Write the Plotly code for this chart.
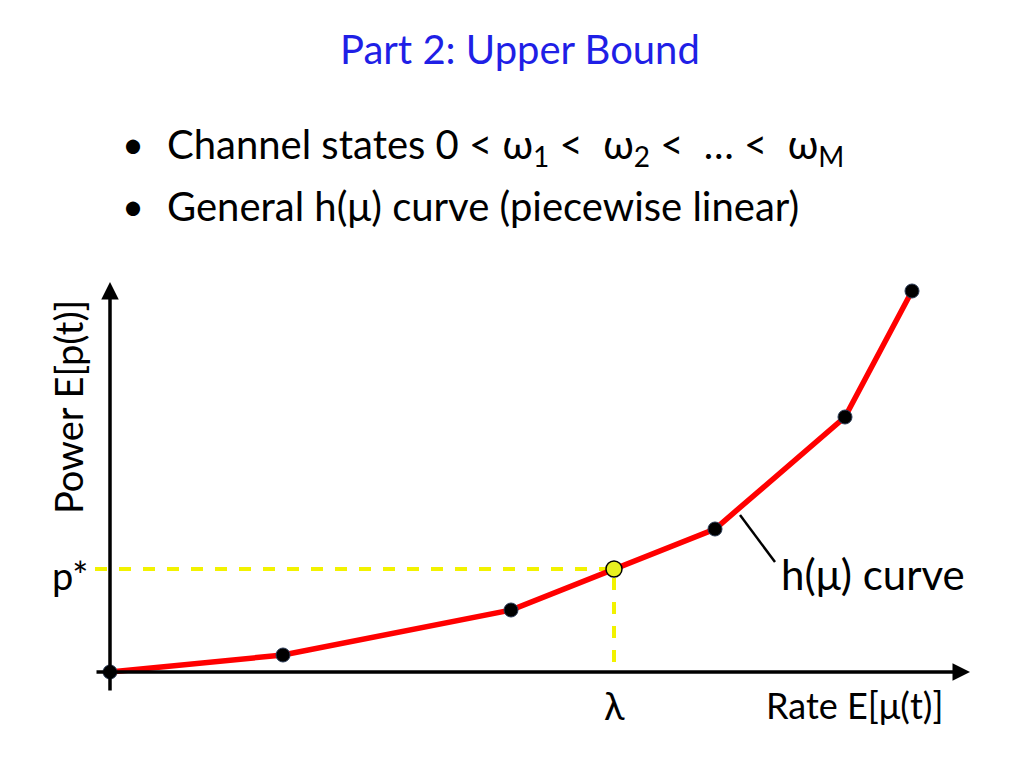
import plotly.graph_objects as go

# piecewise linear h(mu) curve, arbitrary units (rate, power)
rate = [0, 173, 401, 504, 605, 735, 802]
power = [0, 17, 62, 103, 143, 255, 381]
lam = 504
p_star = 103

FONT = "Lato"

fig = go.Figure()

# dashed yellow guide lines
fig.add_trace(go.Scatter(x=[-15, lam, lam], y=[p_star, p_star, 0], mode="lines",
                         line=dict(color="#f2f200", width=4, dash="dash"), hoverinfo="skip"))
# curve
fig.add_trace(go.Scatter(x=rate, y=power, mode="lines",
                         line=dict(color="#ff0000", width=5.5), hoverinfo="skip"))
# black dots (all but lambda point)
dot_x = [r for r in rate if r != lam]
dot_y = [p for r, p in zip(rate, power) if r != lam]
fig.add_trace(go.Scatter(x=dot_x, y=dot_y, mode="markers",
                         marker=dict(color="black", size=14, line=dict(color="#2a3a55", width=1))))
fig.add_trace(go.Scatter(x=[lam], y=[p_star], mode="markers",
                         marker=dict(color="#e8f020", size=16, line=dict(color="black", width=1.5))))

# axes with arrows
fig.add_annotation(x=860, y=0, ax=-15, ay=0, xref="x", yref="y", axref="x", ayref="y",
                   showarrow=True, arrowhead=2, arrowsize=1, arrowwidth=3.5, arrowcolor="black", text="")
fig.add_annotation(x=0, y=390, ax=0, ay=-20, xref="x", yref="y", axref="x", ayref="y",
                   showarrow=True, arrowhead=2, arrowsize=1, arrowwidth=3.5, arrowcolor="black", text="")

# leader line to curve label
fig.add_shape(type="line", x0=630, y0=157, x1=665, y1=110, line=dict(color="black", width=2.5))

labels = [
    dict(x=-40, y=p_star - 6, text="p*", size=38),
    dict(x=lam, y=-33, text="λ", size=38),
    dict(x=744, y=-33, text="Rate E[μ(t)]", size=36),
    dict(x=763, y=98, text="h(μ) curve", size=42),
]
for l in labels:
    fig.add_annotation(x=l["x"], y=l["y"], text=l["text"], showarrow=False, xref="x", yref="y",
                       font=dict(family=FONT, size=l["size"], color="black"))
fig.add_annotation(x=-42, y=265, text="Power E[p(t)]", textangle=-90, showarrow=False,
                   xref="x", yref="y", font=dict(family=FONT, size=38, color="black"))

# title and bullets
fig.add_annotation(x=0.5, y=1 - 15 / 768, xref="paper", yref="paper", showarrow=False,
                   text="Part 2: Upper Bound", font=dict(family=FONT, size=40, color="#1f1fe6"))
bullets = ["Channel states 0 &lt; ω<sub>1</sub> &lt;  ω<sub>2</sub> &lt;  … &lt;  ω<sub>M</sub>",
           "General h(μ) curve (piecewise linear)"]
for i, b in enumerate(bullets):
    yy = 1 - (110 + 62 * i) / 768
    fig.add_annotation(x=112 / 1024, y=yy, xref="paper", yref="paper", showarrow=False,
                       text="•", font=dict(family=FONT, size=38, color="black"))
    fig.add_annotation(x=157 / 1024, y=yy, xref="paper", yref="paper", showarrow=False,
                       xanchor="left", text=b, font=dict(family=FONT, size=40, color="black"))

fig.update_layout(width=1024, height=768, margin=dict(l=0, r=0, t=0, b=0),
                  paper_bgcolor="white", plot_bgcolor="white", showlegend=False,
                  xaxis=dict(range=[-102, 922], visible=False),
                  yaxis=dict(range=[-104, 664], visible=False))
fig.write_html("out.html")
